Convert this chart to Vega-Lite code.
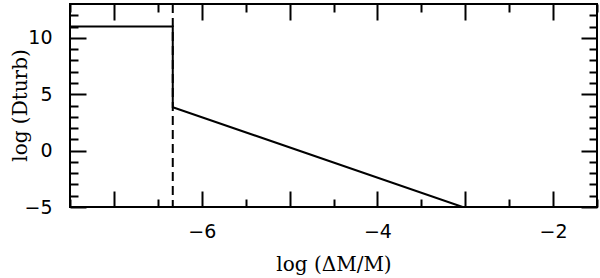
{
  "$schema": "https://vega.github.io/schema/vega-lite/v6.json",
  "width": 527,
  "height": 203,
  "autosize": {"type": "none"},
  "padding": {"left": 70, "top": 4, "right": 3, "bottom": 71},
  "background": "white",
  "config": {
    "view": {"stroke": "black", "strokeWidth": 2},
    "axis": {"grid": false, "domain": false, "tickColor": "black", "tickWidth": 2, "labelColor": "black", "titleColor": "black", "labelFont": "DejaVu Sans", "labelFontSize": 19, "titleFont": "DejaVu Serif", "titleFontSize": 20, "titleFontWeight": "normal"}
  },
  "datasets": {
    "curve": [
      {"x": -7.5, "y": 11, "o": 1},
      {"x": -6.33, "y": 11, "o": 2},
      {"x": -6.33, "y": 3.85, "o": 3},
      {"x": -3.03, "y": -5, "o": 4}
    ],
    "boundary": [{"x": -6.33}]
  },
  "layer": [
    {
      "data": {"name": "curve"},
      "mark": {"type": "line", "color": "black", "strokeWidth": 2, "clip": true},
      "encoding": {
        "x": {"field": "x", "type": "quantitative", "scale": {"domain": [-7.5, -1.5], "nice": false, "zero": false},
          "axis": {"orient": "bottom", "title": "log (ΔM/M)", "values": [-7, -6, -5, -4, -3, -2], "tickSize": -16, "labelExpr": "datum.value % 2 == 0 ? datum.label : ''", "labelPadding": 31, "titlePadding": 13}},
        "y": {"field": "y", "type": "quantitative", "scale": {"domain": [-5, 13], "nice": false, "zero": false},
          "axis": {"orient": "left", "title": "log (Dturb)", "values": [-5, 0, 5, 10], "tickSize": -16, "labelPadding": 34, "titleX": -50, "titleY": 101, "titleBaseline": "middle"}},
        "order": {"field": "o"}
      }
    },
    {
      "data": {"name": "boundary"},
      "mark": {"type": "rule", "color": "black", "strokeWidth": 2, "strokeDash": [9, 5]},
      "encoding": {
        "x": {"field": "x", "type": "quantitative",
          "axis": {"orient": "bottom", "title": null, "labels": false, "values": [-7.5, -6.5, -5.5, -4.5, -3.5, -2.5, -1.5], "tickSize": -8}}
      }
    },
    {
      "data": {"name": "curve"},
      "mark": {"type": "point", "opacity": 0},
      "encoding": {
        "x": {"field": "x", "type": "quantitative",
          "axis": {"orient": "top", "title": null, "labels": false, "values": [-7, -6, -5, -4, -3, -2], "tickSize": -16}},
        "y": {"field": "y", "type": "quantitative",
          "axis": {"orient": "right", "title": null, "labels": false, "values": [-5, 0, 5, 10], "tickSize": -16}}
      }
    },
    {
      "data": {"name": "curve"},
      "mark": {"type": "point", "opacity": 0},
      "encoding": {
        "x": {"field": "x", "type": "quantitative",
          "axis": {"orient": "top", "title": null, "labels": false, "values": [-7.5, -6.5, -5.5, -4.5, -3.5, -2.5, -1.5], "tickSize": -8}},
        "y": {"field": "y", "type": "quantitative",
          "axis": {"orient": "right", "title": null, "labels": false, "values": [-4, -3, -2, -1, 1, 2, 3, 4, 6, 7, 8, 9, 11, 12], "tickSize": -8}}
      }
    },
    {
      "data": {"name": "boundary"},
      "mark": {"type": "point", "opacity": 0},
      "encoding": {
        "y": {"datum": 0, "type": "quantitative",
          "axis": {"orient": "left", "title": null, "labels": false, "values": [-4, -3, -2, -1, 1, 2, 3, 4, 6, 7, 8, 9, 11, 12], "tickSize": -8}}
      }
    }
  ],
  "resolve": {"axis": {"x": "independent", "y": "independent"}}
}
